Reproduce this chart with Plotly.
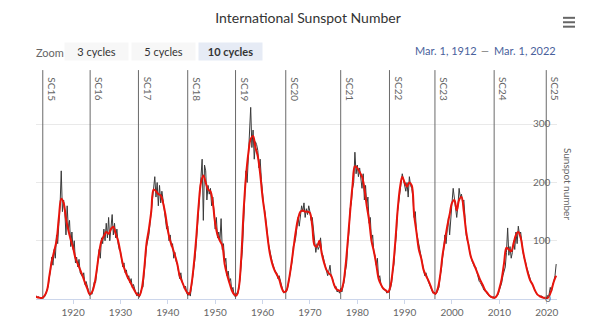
import plotly.graph_objects as go

# ---------------- data ----------------
title_text = "International Sunspot Number"
cycle_labels = ["SC15", "SC16", "SC17", "SC18", "SC19", "SC20", "SC21", "SC22", "SC23", "SC24", "SC25"]
cycle_starts = [1913.6, 1923.6, 1933.8, 1944.2, 1954.3, 1964.9, 1976.5, 1986.8, 1996.4, 2008.9, 2019.9]
x_ticks = [1920, 1930, 1940, 1950, 1960, 1970, 1980, 1990, 2000, 2010, 2020]
y_ticks = [0, 100, 200, 300, 400]
y_tick_text = ["0", "100", "200", "300", ""]
zoom_buttons = ["3 cycles", "5 cycles", "10 cycles"]
date_from = "Mar. 1, 1912"
date_to = "Mar. 1, 2022"

# 13-month smoothed sunspot number, two values per year (Jan, Jul), from 1912
smoothed_start = 1912.0
smoothed_values = [
    4, 3, 2, 2, 6, 15, 40, 65, 82, 100, 140, 172, 165, 138, 118, 102, 88, 70, 60, 50,
    40, 28, 18, 8, 12, 25, 50, 80, 100, 108, 115, 112, 120, 124, 112, 100, 80, 60, 48, 38,
    30, 22, 14, 8, 6, 18, 50, 95, 120, 150, 188, 185, 180, 178, 165, 145, 118, 100, 88, 75,
    60, 40, 30, 20, 12, 8, 25, 60, 105, 160, 200, 212, 200, 188, 185, 165, 130, 110, 100, 92,
    60, 42, 28, 15, 8, 6, 20, 70, 150, 210, 250, 275, 280, 260, 245, 215, 175, 145, 110, 80,
    62, 50, 42, 34, 20, 12, 14, 30, 55, 85, 115, 138, 150, 152, 150, 150, 148, 125, 92, 90,
    100, 78, 62, 50, 44, 40, 27, 18, 15, 14, 25, 55, 100, 150, 195, 228, 225, 218, 210, 190,
    160, 135, 100, 82, 60, 35, 25, 18, 15, 12, 22, 50, 95, 150, 190, 210, 200, 193, 200, 195,
    145, 115, 85, 70, 50, 40, 32, 22, 12, 9, 18, 40, 75, 100, 125, 145, 165, 170, 152, 170,
    175, 150, 115, 92, 72, 62, 52, 42, 32, 24, 15, 10, 5, 3, 2, 6, 18, 35, 62, 88,
    85, 82, 95, 110, 115, 105, 82, 62, 45, 32, 25, 15, 8, 5, 3, 2, 1, 5, 15, 30,
    40,
]

# monthly mean sunspot number, four readings per year, from 1912
monthly_start = 1912.0
monthly_values = [
    3, 5, 2, 4, 2, 1, 3, 2, 4, 10, 14, 22, 38, 50, 72, 58, 85, 70, 110, 95,
    130, 160, 220, 150, 170, 150, 110, 160, 120, 135, 90, 115, 85, 100, 62, 72, 55, 68, 45, 40,
    38, 45, 25, 30, 20, 12, 6, 10, 8, 20, 30, 28, 45, 65, 85, 70, 105, 95, 120, 100,
    130, 105, 140, 100, 125, 145, 110, 130, 105, 120, 95, 85, 82, 65, 55, 62, 45, 50, 35, 40,
    28, 35, 20, 25, 15, 10, 5, 12, 3, 10, 18, 20, 45, 60, 90, 100, 110, 130, 150, 170,
    180, 210, 175, 200, 160, 195, 165, 185, 170, 150, 140, 120, 125, 100, 110, 90, 95, 70, 80, 65,
    60, 50, 35, 45, 30, 25, 18, 22, 10, 6, 12, 5, 20, 35, 55, 70, 95, 120, 150, 180,
    210, 240, 135, 230, 220, 170, 195, 180, 190, 160, 175, 150, 120, 140, 105, 115, 100, 138, 85, 95,
    62, 70, 40, 48, 30, 35, 15, 20, 6, 4, 10, 8, 18, 35, 60, 85, 130, 175, 220, 200,
    245, 265, 329, 260, 290, 240, 270, 265, 255, 225, 240, 205, 180, 160, 150, 130, 115, 95, 85, 72,
    65, 58, 52, 45, 45, 35, 40, 30, 22, 16, 10, 14, 12, 18, 28, 40, 52, 65, 90, 95,
    105, 130, 140, 125, 145, 160, 150, 165, 140, 155, 145, 160, 150, 135, 140, 115, 95, 80, 95, 85,
    90, 105, 80, 75, 65, 55, 50, 40, 48, 58, 38, 35, 28, 20, 22, 12, 15, 10, 18, 12,
    22, 30, 48, 60, 95, 115, 155, 165, 190, 200, 252, 215, 230, 210, 225, 205, 190, 215, 170, 195,
    160, 175, 130, 140, 100, 110, 80, 75, 58, 70, 35, 40, 25, 20, 18, 15, 15, 10, 14, 12,
    18, 28, 48, 60, 90, 110, 150, 165, 185, 200, 215, 205, 195, 185, 200, 175, 210, 195, 190, 175,
    140, 150, 115, 105, 90, 80, 70, 65, 50, 40, 45, 35, 30, 25, 20, 15, 10, 12, 8, 10,
    15, 20, 40, 50, 70, 85, 110, 95, 120, 140, 110, 150, 165, 190, 170, 150, 140, 160, 190, 175,
    180, 165, 170, 140, 110, 100, 95, 80, 70, 65, 60, 55, 55, 45, 40, 30, 28, 25, 20, 15,
    14, 12, 8, 5, 4, 3, 2, 4, 2, 3, 5, 8, 15, 20, 28, 40, 50, 55, 80, 122,
    75, 90, 70, 80, 100, 85, 115, 95, 125, 110, 115, 90, 80, 70, 65, 55, 48, 40, 35, 28,
    25, 18, 15, 10, 8, 6, 4, 5, 5, 2, 1, 2, 2, 5, 8, 20, 12, 25, 30, 40,
    60,
]

smoothed_x = [smoothed_start + i / 2 for i in range(len(smoothed_values))]
monthly_x = [monthly_start + i / 4 for i in range(len(monthly_values))]

# ---------------- layout geometry ----------------
W_FIG, H_FIG = 600, 330
L, R, T, B = 36, 43, 66, 27
PW = W_FIG - L - R
PH = H_FIG - T - B


def px(xp):
    return (xp - L) / PW


def py(yp):
    return (H_FIG - B - yp) / PH


FONT = "Lato, 'Open Sans', sans-serif"

fig = go.Figure()
fig.add_trace(go.Scatter(
    x=monthly_x, y=monthly_values, mode="lines",
    line=dict(color="#3a3a3a", width=1), hoverinfo="skip", name="Monthly"))
fig.add_trace(go.Scatter(
    x=smoothed_x, y=smoothed_values, mode="lines",
    line=dict(color="#e8140c", width=2, shape="spline", smoothing=1.0),
    hoverinfo="skip", name="Smoothed"))

shapes = []
annotations = []
for lab, xs in zip(cycle_labels, cycle_starts):
    shapes.append(dict(type="line", xref="x", yref="y", x0=xs, x1=xs, y0=0, y1=393,
                       line=dict(color="#6a6a6a", width=1), layer="between"))
    annotations.append(dict(xref="x", yref="y", x=xs, y=393, text=lab, showarrow=False,
                            textangle=90, xanchor="left", yanchor="top", xshift=1, yshift=-5,
                            font=dict(family=FONT, size=10, color="#666666")))

# y tick labels, drawn inside the plot at the right edge
for v, t in zip(y_ticks, y_tick_text):
    if t:
        annotations.append(dict(xref="paper", yref="y", x=px(553), y=v, text=t,
                                showarrow=False, xanchor="right", yanchor="middle", yshift=1,
                                font=dict(family=FONT, size=10, color="#666666")))

# y-axis title (reads top to bottom)
annotations.append(dict(xref="paper", yref="paper", x=px(568), y=py(186), text="Sunspot number",
                        showarrow=False, textangle=90, xanchor="center", yanchor="middle",
                        font=dict(family=FONT, size=10, color="#666666")))

# range selector imitation
annotations.append(dict(xref="paper", yref="paper", x=px(49.5), y=py(52), text="Zoom",
                        showarrow=False, xanchor="center", yanchor="middle",
                        font=dict(family=FONT, size=11, color="#666666")))
btn_centers = [96.5, 163.5, 230.5]
for i, (lab, cx) in enumerate(zip(zoom_buttons, btn_centers)):
    sel = i == 2
    annotations.append(dict(xref="paper", yref="paper", x=px(cx), y=py(51.5),
                            text=("<b>%s</b>" % lab) if sel else lab,
                            showarrow=False, xanchor="center", yanchor="middle",
                            width=63, height=17, borderpad=0,
                            bgcolor="#e6ebf5" if sel else "#f7f7f7",
                            font=dict(family=FONT, size=11, color="#333333")))
annotations.append(dict(xref="paper", yref="paper", x=px(445.5), y=py(50), text=date_from,
                        showarrow=False, xanchor="center", yanchor="middle",
                        font=dict(family=FONT, size=11, color="#4a619c")))
annotations.append(dict(xref="paper", yref="paper", x=px(485), y=py(50), text="—",
                        showarrow=False, xanchor="center", yanchor="middle",
                        font=dict(family=FONT, size=10, color="#666666")))
annotations.append(dict(xref="paper", yref="paper", x=px(525), y=py(50), text=date_to,
                        showarrow=False, xanchor="center", yanchor="middle",
                        font=dict(family=FONT, size=11, color="#4a619c")))

# hamburger menu icon
for yy in (17, 21.5, 26):
    shapes.append(dict(type="line", xref="paper", yref="paper", x0=px(563), x1=px(575),
                       y0=py(yy), y1=py(yy), line=dict(color="#666666", width=2)))

fig.update_layout(
    width=W_FIG, height=H_FIG,
    margin=dict(l=L, r=R, t=T, b=B),
    plot_bgcolor="white", paper_bgcolor="white",
    showlegend=False,
    font=dict(family=FONT, color="#333333"),
    title=dict(text=title_text, x=308 / W_FIG, xanchor="center", y=1 - 18 / H_FIG, yanchor="middle",
               font=dict(family=FONT, size=14, color="#333333")),
    xaxis=dict(range=[1912.17, 2022.17], tickmode="array", tickvals=x_ticks,
               ticktext=[str(v) for v in x_ticks], showgrid=False, zeroline=False,
               showline=True, linecolor="#ccd6eb", linewidth=1,
               ticks="outside", ticklen=4, tickcolor="#ccd6eb",
               tickfont=dict(family=FONT, size=10, color="#666666")),
    yaxis=dict(range=[0, 400], side="right", tickmode="array", tickvals=y_ticks,
               showticklabels=False, showgrid=True, gridcolor="#e9e9e9", zeroline=False,
               showline=False, ticks=""),
    shapes=shapes, annotations=annotations,
)

fig.write_html("out.html")
